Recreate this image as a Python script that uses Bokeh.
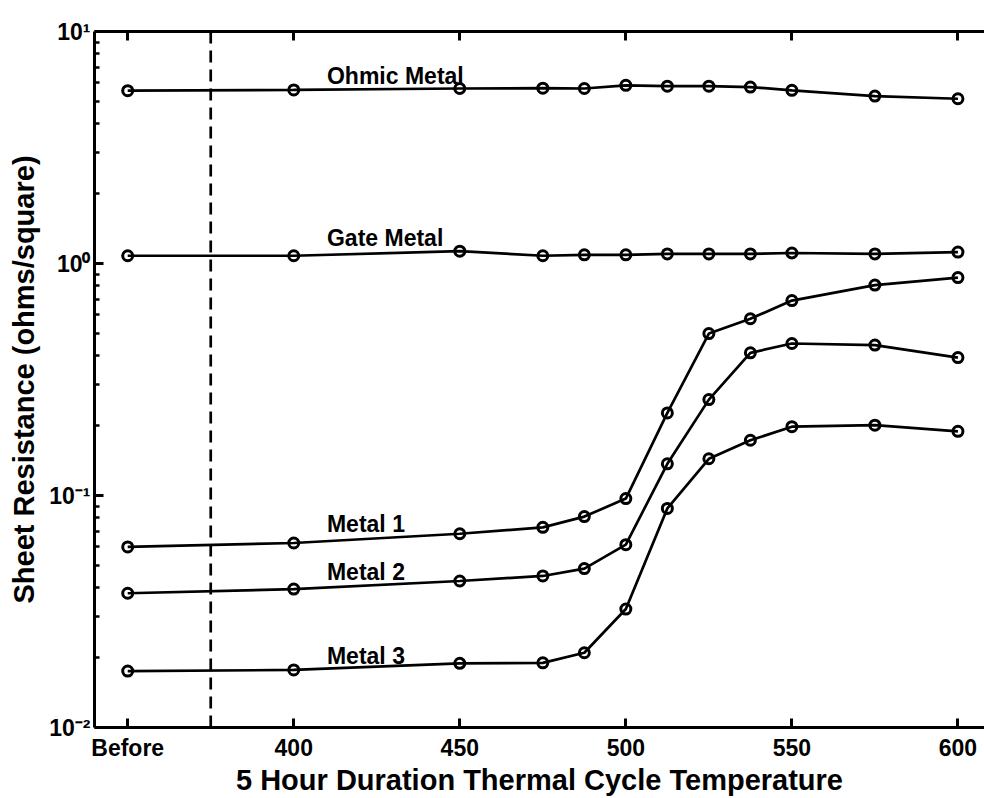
from bokeh.plotting import figure
from bokeh.models import FixedTicker, LinearAxis, Range1d, Span, CustomLabelingPolicy
from bokeh.embed import file_html
from bokeh.resources import INLINE
from bokeh.core.properties import value

# ---- data ----
temps = [350, 400, 450, 475, 487.5, 500, 512.5, 525, 537.5, 550, 575, 600]
ohmic = [5.56, 5.60, 5.68, 5.70, 5.68, 5.86, 5.81, 5.81, 5.76, 5.58, 5.27, 5.13]
gate = [1.08, 1.08, 1.13, 1.08, 1.09, 1.09, 1.10, 1.10, 1.10, 1.11, 1.10, 1.12]
metal1 = [0.0600, 0.0624, 0.0684, 0.0729, 0.0811, 0.0970, 0.227, 0.499, 0.578, 0.692, 0.807, 0.870]
metal2 = [0.0379, 0.0395, 0.0428, 0.0450, 0.0484, 0.0614, 0.137, 0.259, 0.412, 0.452, 0.445, 0.393]
metal3 = [0.0175, 0.0177, 0.0189, 0.0190, 0.0210, 0.0324, 0.088, 0.144, 0.173, 0.198, 0.201, 0.189]

series_names = ["Ohmic Metal", "Gate Metal", "Metal 1", "Metal 2", "Metal 3"]
label_x = [410, 410, 410, 410, 410]
label_y = [6.41, 1.288, 0.0752, 0.0468, 0.0204]

x_ticks = [350, 400, 450, 500, 550, 600]
x_tick_labels = {350: "Before"}
y_ticks = [0.01, 0.1, 1, 10]
y_tick_labels = {0.01: "10\u207b\u00b2", 0.1: "10\u207b\u00b9", 1: "10\u2070", 10: "10\u00b9"}
cutoff = 375
x_title = "5 Hour Duration Thermal Cycle Temperature"
y_title = "Sheet Resistance (ohms/square)"

FONT = "Liberation Sans"

p = figure(width=984, height=798, y_axis_type="log",
           x_range=Range1d(340, 608), y_range=Range1d(0.01, 10),
           output_backend="svg", toolbar_location=None,
           min_border_left=94, min_border_right=0, min_border_top=31, min_border_bottom=63)
p.outline_line_color = None
p.grid.visible = False
p.background_fill_color = "white"
p.border_fill_color = "white"

minor = []
for d in [0.01, 0.1, 1]:
    for k in range(2, 10):
        minor.append(d * k)

xa = p.xaxis[0]
xa.ticker = FixedTicker(ticks=x_ticks, minor_ticks=[])
xa.major_label_overrides = x_tick_labels
ya = p.yaxis[0]
ya.ticker = FixedTicker(ticks=y_ticks, minor_ticks=minor)
ya.major_label_overrides = y_tick_labels

for ax in (xa, ya):
    ax.axis_line_width = 3
    ax.axis_line_color = "black"
    ax.major_tick_in = 9
    ax.major_tick_out = 0
    ax.major_tick_line_width = 3
    ax.minor_tick_in = 5
    ax.minor_tick_out = 0
    ax.minor_tick_line_width = 2.5
    ax.major_label_text_font = FONT
    ax.major_label_text_font_style = "bold"
    ax.major_label_text_font_size = "23px"
    ax.major_label_text_color = "black"
    ax.axis_label_text_font = FONT
    ax.axis_label_text_font_style = "bold"
    ax.axis_label_text_color = "black"
    ax.axis_label_text_font_size = "29px"

xa.axis_label = x_title
xa.major_label_standoff = 7
xa.axis_label_standoff = 0
ya.axis_label = y_title
ya.major_label_standoff = 4
ya.axis_label_standoff = 6

top = LinearAxis(ticker=FixedTicker(ticks=x_ticks, minor_ticks=[]))
top.axis_line_width = 3
top.major_tick_in = 9
top.major_tick_out = 0
top.major_tick_line_width = 3
top.minor_tick_in = 0
top.minor_tick_out = 0
top.major_label_policy = CustomLabelingPolicy(
    code="for (const i of indices) { indices.unset(i) }\nreturn indices")
p.add_layout(top, "above")

p.add_layout(Span(location=cutoff, dimension="height", line_color="black",
                  line_width=2.7, line_dash="12 7"))

for ys in [ohmic, gate, metal1, metal2, metal3]:
    p.line(temps, ys, line_color="black", line_width=2.7)
    p.scatter(temps, ys, marker="circle", size=10, fill_color=None,
              line_color="black", line_width=3)

p.text(x=label_x, y=label_y, text=series_names, text_font=value(FONT),
       text_font_style="bold", text_font_size="23px", text_baseline="alphabetic",
       text_align="left", text_color="black")

open("out.html", "w").write(file_html(p, INLINE))
